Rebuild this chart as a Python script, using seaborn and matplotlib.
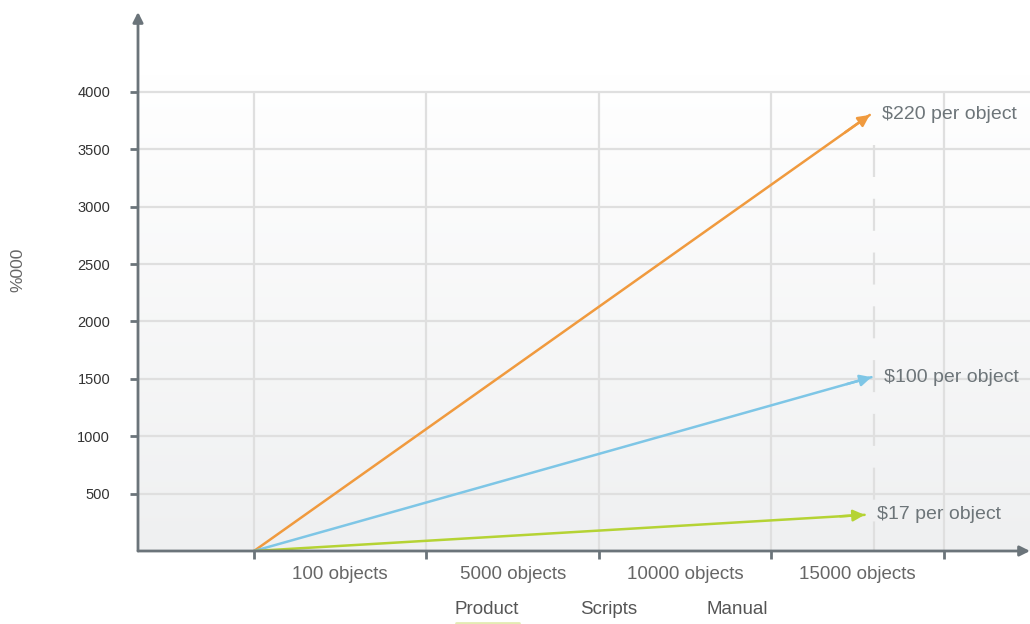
import numpy as np
import pandas as pd
import matplotlib
matplotlib.use("Agg")
import matplotlib.pyplot as plt
from matplotlib.colors import LinearSegmentedColormap
from matplotlib.lines import Line2D
import seaborn as sns

# ---- data -------------------------------------------------------------
volume_labels = ["100 objects", "5000 objects", "10000 objects", "15000 objects"]
series_labels = ["$220 per object", "$100 per object", "$17 per object"]
series_end_x = [3.57, 3.58, 3.54]          # category-axis position of each arrow tip
series_end_y = [3800, 1515, 315]           # value (%000) at each arrow tip
y_ticks = [500, 1000, 1500, 2000, 2500, 3000, 3500, 4000]
legend_labels = ["Product", "Scripts", "Manual"]

colors = ["#f09a3e", "#7ec6e6", "#b5d334"]
spine_color = "#6b747a"
grid_color = "#dfdfdf"

# ---- figure -------------------------------------------------------------
sns.set_theme(style="white")
plt.rcParams["font.family"] = ["Liberation Sans", "DejaVu Sans"]

W, H = 1030, 624
fig = plt.figure(figsize=(W / 100, H / 100), dpi=100)
ax = fig.add_axes([138 / W, 73 / H, (W - 138) / W, (551 - 12) / H])
ax.set_facecolor("white")

x_left, x_right = -0.6725, 4.499
y_top = 4697
ax.set_xlim(x_left, x_right)
ax.set_ylim(0, y_top)

# soft vertical gradient behind the grid
grad = np.linspace(0, 1, 256).reshape(-1, 1)
cmap = LinearSegmentedColormap.from_list("bg", ["#eff0f1", "#ffffff"])
ax.imshow(grad, extent=[x_left, x_right, 0, 4150], origin="lower",
          aspect="auto", cmap=cmap, zorder=0)

# grid
ax.hlines(y_ticks, x_left, x_right, color=grid_color, lw=1.6, zorder=1)
major_x = np.arange(len(volume_labels) + 1)
ax.vlines(major_x, 0, 4000, color=grid_color, lw=1.6, zorder=1)
# dashed marker at the end of the range
ax.plot([3.594, 3.594], [3538, 0], color=grid_color, lw=1.6,
        linestyle=(0, (14.4, 9.8)), zorder=1)

# ---- series lines ---------------------------------------------------------
rows = []
for name, ex, ey in zip(series_labels, series_end_x, series_end_y):
    rows.append({"x": 0.0, "y": 0.0, "series": name})
    rows.append({"x": ex, "y": ey, "series": name})
df = pd.DataFrame(rows)
sns.lineplot(data=df, x="x", y="y", hue="series", palette=colors,
             hue_order=series_labels, sort=False, lw=1.8, legend=False,
             ax=ax, zorder=3)

for name, ex, ey, c in zip(series_labels, series_end_x, series_end_y, colors):
    # arrow head at the tip
    dx, dy = ex * 0.04, ey * 0.04
    ax.annotate("", xy=(ex, ey), xytext=(ex - dx, ey - dy),
                arrowprops=dict(arrowstyle="-|>", color=c, lw=1.8,
                                mutation_scale=17, shrinkA=0, shrinkB=0),
                zorder=4)
    ax.annotate(name, xy=(ex, ey), xytext=(9, 0), textcoords="offset points",
                ha="left", va="center", fontsize=14, color="#6d7579",
                zorder=5)

# ---- axes ---------------------------------------------------------------
for s in ax.spines.values():
    s.set_visible(False)

ax.annotate("", xy=(0, 1), xytext=(0, 0), xycoords="axes fraction",
            arrowprops=dict(arrowstyle="-|>", color=spine_color, lw=2,
                            mutation_scale=15, shrinkA=0, shrinkB=0),
            annotation_clip=False, zorder=6)
ax.annotate("", xy=(1, 0), xytext=(0, 0), xycoords="axes fraction",
            arrowprops=dict(arrowstyle="-|>", color=spine_color, lw=2,
                            mutation_scale=15, shrinkA=0, shrinkB=0),
            annotation_clip=False, zorder=6)

ax.set_yticks(y_ticks)
ax.set_yticklabels([str(v) for v in y_ticks])
ax.tick_params(axis="y", which="major", left=True, length=6, width=2,
               color=spine_color, pad=14, labelsize=10.5, labelcolor="#333333")

ax.set_xticks(major_x)
ax.set_xticklabels([""] * len(major_x))
ax.set_xticks(np.arange(len(volume_labels)) + 0.5, minor=True)
ax.set_xticklabels(volume_labels, minor=True)
ax.tick_params(axis="x", which="major", bottom=True, length=6, width=2,
               color=spine_color)
ax.tick_params(axis="x", which="minor", bottom=True, length=0, pad=11,
               labelsize=13.5, labelcolor="#666666")

ax.set_xlabel("")
ax.set_ylabel("")
fig.text(18 / W, 1 - 270 / H, "%000", rotation=90, ha="center", va="center",
         fontsize=12.5, color="#666666")

# ---- legend tabs --------------------------------------------------------
for label, cx in zip(legend_labels, [487, 609, 737]):
    fig.text(cx / W, 1 - 609 / H, label, ha="center", va="center",
             fontsize=13.5, color="#555555")
fig.add_artist(Line2D([456 / W, 519 / W], [1 - 623 / H, 1 - 623 / H],
                      transform=fig.transFigure, color="#e4ebb3", lw=2))

fig.savefig("out.png", dpi=100)
